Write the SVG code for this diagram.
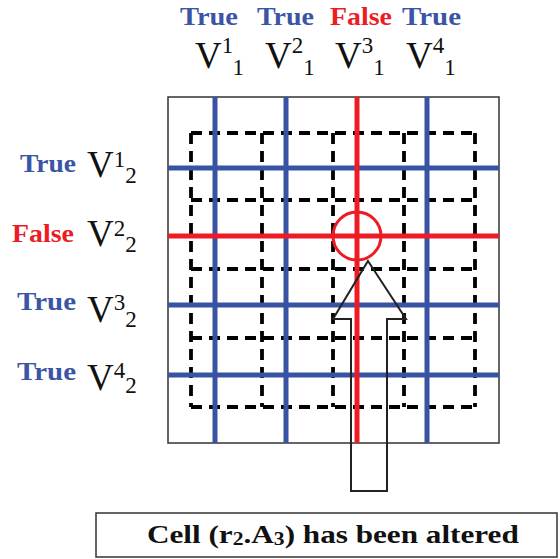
<svg xmlns="http://www.w3.org/2000/svg" width="560" height="559" viewBox="0 0 560 559">
<style>
.lbl{font-family:"Liberation Serif",serif;font-weight:bold;font-size:26px}
.t{fill:#3B55A5}
.f{fill:#ED1C24}
.v{font-family:"Liberation Serif",serif;font-size:37px;fill:#111}
.s{font-size:23px}
.blue{stroke:#3953A4;stroke-width:5}
.red{stroke:#ED1C24;stroke-width:5}
.dash{fill:none;stroke:#000;stroke-width:3.8;stroke-dasharray:11 7}
</style>
<rect width="560" height="559" fill="#fff"/>
<g id="top-labels">
<text class="lbl t" x="180" y="25" textLength="58" lengthAdjust="spacingAndGlyphs">True</text>
<text class="lbl t" x="257" y="25" textLength="57" lengthAdjust="spacingAndGlyphs">True</text>
<text class="lbl f" x="330" y="25" textLength="62" lengthAdjust="spacingAndGlyphs">False</text>
<text class="lbl t" x="402" y="25" textLength="59" lengthAdjust="spacingAndGlyphs">True</text>
<text class="v" x="195" y="68">V<tspan class="s" dy="-15">1</tspan><tspan class="s" dy="22">1</tspan></text>
<text class="v" x="265" y="68">V<tspan class="s" dy="-15">2</tspan><tspan class="s" dy="22">1</tspan></text>
<text class="v" x="335" y="68">V<tspan class="s" dy="-15">3</tspan><tspan class="s" dy="22">1</tspan></text>
<text class="v" x="406" y="68">V<tspan class="s" dy="-15">4</tspan><tspan class="s" dy="22">1</tspan></text>
</g>
<g id="left-labels">
<text class="lbl t" x="20" y="172" textLength="56" lengthAdjust="spacingAndGlyphs">True</text>
<text class="lbl f" x="12" y="242" textLength="62" lengthAdjust="spacingAndGlyphs">False</text>
<text class="lbl t" x="17" y="310" textLength="59" lengthAdjust="spacingAndGlyphs">True</text>
<text class="lbl t" x="17" y="380" textLength="59" lengthAdjust="spacingAndGlyphs">True</text>
<text class="v" x="87" y="177">V<tspan class="s" dy="-10">1</tspan><tspan class="s" dy="16">2</tspan></text>
<text class="v" x="87" y="246">V<tspan class="s" dy="-10">2</tspan><tspan class="s" dy="16">2</tspan></text>
<text class="v" x="87" y="322">V<tspan class="s" dy="-12">3</tspan><tspan class="s" dy="17">2</tspan></text>
<text class="v" x="87" y="390">V<tspan class="s" dy="-12">4</tspan><tspan class="s" dy="15">2</tspan></text>
</g>
<g id="grid">
<rect x="168" y="97" width="331" height="346" fill="none" stroke="#333" stroke-width="1.5"/>
<path class="dash" d="M191 133H475M191 200H475M191 269H475M191 338H475M191 407H475M191 133V407M262 133V407M333 133V407M404 133V407M475 133V407"/>
<path class="blue" d="M215 97V443M286 97V443M427 97V443M168 168H499M168 305H499M168 375H499"/>
<path class="red" d="M168 236H499M357 97V443"/>
<circle cx="357" cy="236" r="24" fill="none" stroke="#ED1C24" stroke-width="3"/>
</g>
<g id="connectors">
<path d="M368 261L406 319H387V491H351V319H333Z" fill="none" stroke="#222" stroke-width="2"/>
</g>
<g id="caption">
<rect x="96" y="513" width="461" height="44" fill="#fff" stroke="#333" stroke-width="1.5"/>
<text class="lbl" transform="translate(147,543) scale(1.2,1)" x="0" y="0" fill="#111">Cell (r<tspan style="font-size:18px" dy="2">2</tspan><tspan dy="-2">.A</tspan><tspan style="font-size:18px" dy="2">3</tspan><tspan dy="-2">) has been altered</tspan></text>
</g>
</svg>
